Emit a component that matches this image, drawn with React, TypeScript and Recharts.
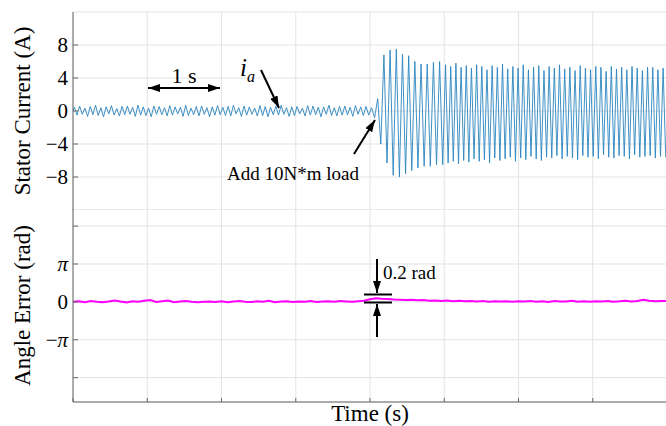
import { CartesianGrid, Line, LineChart, XAxis, YAxis } from "recharts";

const FONT = '"Liberation Serif", "Times New Roman", serif';
const AXIS = "#666";
const GRID = "#e3e3e3";

// time axis (s)
const timeTicks = [0, 1, 2, 3, 4, 5, 6, 7, 8];
const currentTicks = [-8, -4, 0, 4, 8];
const angleTicks = [-2 * Math.PI, -Math.PI, 0, Math.PI, 2 * Math.PI];

// stator current i_a: peak / trough of each cycle
const preLoadPeaks = [
  0.45, 0.6, 0.35, 0.55, 0.7, 0.4, 0.5, 0.65, 0.3, 0.55, 0.6, 0.45, 0.7, 0.5,
  0.35, 0.6, 0.55, 0.4, 0.65, 0.5, 0.45, 0.7, 0.35, 0.55, 0.6, 0.4, 0.5, 0.65,
  0.45, 0.55, 0.7, 0.4, 0.6, 0.5, 0.35, 0.65, 0.55, 0.45, 0.6, 0.7, 0.4, 0.5,
  0.55, 0.35, 0.65, 0.6, 0.45, 0.5, 0.7, 0.4, 0.55, 0.6, 0.45, 0.65, 0.5, 0.55,
];
const preLoadTroughs = [
  -0.5, -0.4, -0.65, -0.45, -0.55, -0.7, -0.35, -0.5, -0.6, -0.45, -0.4, -0.65,
  -0.5, -0.55, -0.7, -0.4, -0.45, -0.6, -0.5, -0.35, -0.65, -0.55, -0.45, -0.6,
  -0.4, -0.7, -0.5, -0.45, -0.55, -0.6, -0.35, -0.65, -0.5, -0.4, -0.6, -0.55,
  -0.7, -0.45, -0.5, -0.4, -0.65, -0.55, -0.35, -0.6, -0.5, -0.45, -0.7, -0.4,
  -0.55, -0.6, -0.5, -0.45, -0.65, -0.4, -0.55, -0.5,
];
const transientPeaks = [0.4, 1.5, 6.8, 7.4, 7.5, 6.9, 6.7, 6.0, 5.7, 5.7, 5.9, 6.0];
const transientTroughs = [-0.8, -4.0, -6.3, -7.8, -8.0, -7.6, -7.2, -6.9, -6.7, -6.7, -6.5, -6.5];
const steadyPeaks = [
  5.6, 5.4, 5.8, 5.3, 5.5, 5.2, 5.6, 5.4, 5.0, 5.5, 5.3, 5.7, 5.1, 5.4, 5.2,
  5.6, 5.0, 5.3, 5.5, 4.9, 5.4, 5.2, 5.6, 5.1, 5.3, 4.9, 5.5, 5.2, 5.0, 5.4,
  5.3, 4.8, 5.4, 5.1, 5.3, 5.0, 5.4, 5.2, 4.9, 5.3, 5.3, 5.0, 5.2,
];
const steadyTroughs = [
  -6.3, -6.1, -6.4, -6.0, -6.2, -5.8, -6.1, -5.9, -6.3, -5.7, -6.0, -5.8, -5.6,
  -6.1, -5.7, -5.9, -5.5, -5.8, -6.0, -5.6, -5.7, -5.4, -5.8, -5.5, -5.7, -5.9,
  -5.4, -5.6, -5.5, -5.8, -5.3, -5.6, -5.7, -5.4, -5.5, -5.8, -5.3, -5.6, -5.5,
  -5.4, -5.7, -5.5, -5.6,
];

const segments = [
  { start: 0, end: 4, peaks: preLoadPeaks, troughs: preLoadTroughs },
  { start: 4, end: 5, peaks: transientPeaks, troughs: transientTroughs },
  { start: 5, end: 8, peaks: steadyPeaks, troughs: steadyTroughs },
];

// angle error (rad), sampled every 0.08 s
const angleError = [
  0.02, 0.05, -0.03, 0.08, 0.01, -0.02, 0.04, 0.12, 0.03, -0.04, 0.06, 0.02,
  0.1, 0.15, 0.0, 0.05, 0.11, -0.02, 0.03, 0.07, 0.01, -0.03, 0.02, 0.04, 0.0,
  0.06, -0.02, 0.03, 0.08, 0.01, -0.01, 0.05, 0.02, 0.09, -0.02, 0.03, 0.06,
  0.0, 0.04, 0.02, 0.07, -0.01, 0.03, 0.05, 0.02, 0.08, 0.04, 0.01, 0.06, 0.1,
  0.22, 0.3, 0.26, 0.24, 0.2, 0.18, 0.16, 0.17, 0.13, 0.15, 0.1, 0.12, 0.08,
  0.11, 0.06, 0.09, 0.05, 0.08, 0.04, 0.07, 0.02, 0.06, 0.03, 0.05, 0.01, 0.06,
  0.03, 0.08, 0.02, 0.05, 0.0, 0.07, 0.03, 0.04, 0.09, 0.02, 0.05, 0.01, 0.06,
  0.03, 0.08, 0.02, 0.05, 0.1, 0.04, 0.07, 0.18, 0.09, 0.05, 0.08, 0.06,
];

const currentData: { t: number; i: number }[] = [{ t: 0, i: 0 }];
segments.forEach(({ start, end, peaks, troughs }) => {
  const n = Math.min(peaks.length, troughs.length);
  const period = (end - start) / n;
  for (let k = 0; k < n; k++) {
    currentData.push({ t: start + (k + 0.25) * period, i: peaks[k] });
    currentData.push({ t: start + (k + 0.75) * period, i: troughs[k] });
  }
});

const angleData = angleError.map((e, k) => ({
  t: (k * 8) / (angleError.length - 1),
  e,
}));

const blank = () => "";
const minus = (v: number) => (v < 0 ? `\u2212${-v}` : `${v}`);

const PiTick = (props: any) => {
  const { x, y, payload } = props;
  const v = payload.value;
  let body: any = null;
  if (Math.abs(v) < 1e-9) body = "0";
  else if (Math.abs(v - Math.PI) < 1e-6) body = <tspan fontStyle="italic">π</tspan>;
  else if (Math.abs(v + Math.PI) < 1e-6)
    body = (
      <>
        <tspan>{"\u2212"}</tspan>
        <tspan fontStyle="italic">π</tspan>
      </>
    );
  if (!body) return <g />;
  return (
    <text x={x} y={y} dy={7} textAnchor="end" fontFamily={FONT} fontSize={21} fill="#000">
      {body}
    </text>
  );
};

const tickStyle = { fontSize: 21, fill: "#000", fontFamily: FONT };
const labelStyle = { textAnchor: "middle", fontSize: 23, fill: "#000", fontFamily: FONT };

export default function App() {
  return (
    <div
      style={{
        position: "absolute",
        left: 0,
        top: 0,
        width: 666,
        height: 426,
        overflow: "hidden",
        background: "#fff",
        fontFamily: FONT,
      }}
    >
      <div style={{ position: "absolute", left: 0, top: 0 }}>
        <LineChart width={667} height={210} data={currentData} margin={{ top: 12, right: 0, bottom: 0, left: 23 }}>
          <CartesianGrid stroke={GRID} />
          <XAxis dataKey="t" type="number" domain={[0, 8]} ticks={timeTicks} height={0} tickSize={-4}
            tickFormatter={blank} stroke={AXIS} />
          <XAxis xAxisId="top" orientation="top" type="number" domain={[0, 8]} ticks={timeTicks} height={0}
            tickSize={-4} tickFormatter={blank} stroke={AXIS} />
          <YAxis type="number" domain={[-12, 12]} ticks={currentTicks} width={50} tickSize={-5} tickMargin={10}
            tickFormatter={minus} tick={tickStyle} stroke={AXIS}
            label={{ value: "Stator Current (A)", angle: -90, position: "insideLeft", offset: -1, style: labelStyle }} />
          <YAxis yAxisId="r" orientation="right" type="number" domain={[-12, 12]} ticks={currentTicks} width={0}
            tickSize={-5} tickFormatter={blank} stroke={AXIS} />
          <Line dataKey="i" type="linear" stroke="#2a85c0" strokeWidth={0.9} dot={false} isAnimationActive={false} />
        </LineChart>
      </div>
      <div style={{ position: "absolute", left: 0, top: 209 }}>
        <LineChart width={667} height={217} data={angleData} margin={{ top: 0, right: 0, bottom: 0, left: 23 }}>
          <CartesianGrid stroke={GRID} />
          <XAxis dataKey="t" type="number" domain={[0, 8]} ticks={timeTicks} height={24} tickSize={-4}
            tickFormatter={blank} stroke={AXIS}
            label={{ value: "Time (s)", position: "insideBottom", offset: 5,
              style: { fontSize: 23, fill: "#000", fontFamily: FONT } }} />
          <XAxis xAxisId="top" orientation="top" type="number" domain={[0, 8]} ticks={timeTicks} height={0}
            tickSize={-4} tickFormatter={blank} stroke={AXIS} />
          <YAxis type="number" domain={[-8.3, 7.7]} ticks={angleTicks} width={50} tickSize={-5} tickMargin={10}
            tick={<PiTick />} stroke={AXIS}
            label={{ value: "Angle Error (rad)", angle: -90, position: "insideLeft", offset: -1, style: labelStyle }} />
          <YAxis yAxisId="r" orientation="right" type="number" domain={[-8.3, 7.7]} ticks={angleTicks} width={0}
            tickSize={-5} tickFormatter={blank} stroke={AXIS} />
          <Line dataKey="e" type="linear" stroke="#ff00ff" strokeWidth={2} dot={false} isAnimationActive={false} />
        </LineChart>
      </div>
      <svg width={666} height={426} style={{ position: "absolute", left: 0, top: 0, pointerEvents: "none" }}>
        <defs>
          <marker id="ah" viewBox="0 0 12 8" refX={12} refY={4} markerWidth={12} markerHeight={8}
            markerUnits="userSpaceOnUse" orient="auto-start-reverse">
            <path d="M0,0 L12,4 L0,8 z" fill="#000" />
          </marker>
        </defs>
        <g fontFamily={FONT} fill="#000">
          <line x1={148} y1={88} x2={220} y2={88} stroke="#000" strokeWidth={2} markerStart="url(#ah)" markerEnd="url(#ah)" />
          <text x={184} y={83} textAnchor="middle" fontSize={22}>1 s</text>
          <text x={240} y={76} fontSize={25} fontStyle="italic">
            i<tspan fontSize={16} dy={6}>a</tspan>
          </text>
          <line x1={261} y1={70} x2={279} y2={108} stroke="#000" strokeWidth={2} markerEnd="url(#ah)" />
          <line x1={354} y1={154} x2={375} y2={120} stroke="#000" strokeWidth={2} markerEnd="url(#ah)" />
          <text x={227} y={180} fontSize={19}>Add 10N*m load</text>
          <line x1={377} y1={259} x2={377} y2={293} stroke="#000" strokeWidth={2} markerEnd="url(#ah)" />
          <line x1={364} y1={294.5} x2={392} y2={294.5} stroke="#000" strokeWidth={2} />
          <line x1={364} y1={302.5} x2={392} y2={302.5} stroke="#000" strokeWidth={2} />
          <line x1={377} y1={337} x2={377} y2={304} stroke="#000" strokeWidth={2} markerEnd="url(#ah)" />
          <text x={383} y={279} fontSize={19}>0.2 rad</text>
        </g>
      </svg>
    </div>
  );
}
